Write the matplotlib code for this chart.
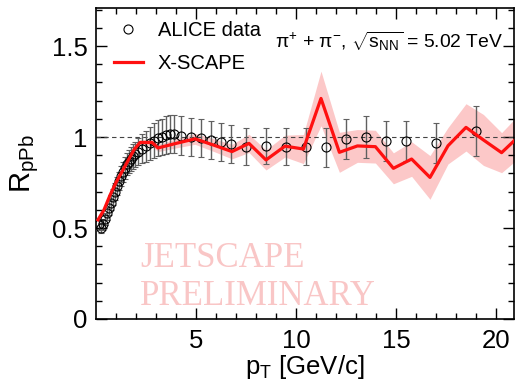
import matplotlib
matplotlib.use("Agg")
import matplotlib.pyplot as plt
from matplotlib.lines import Line2D
import numpy as np

plt.rcParams['font.family'] = ['Liberation Sans', 'DejaVu Sans']
plt.rcParams['mathtext.fontset'] = 'custom'
plt.rcParams['mathtext.rm'] = 'Liberation Sans'
plt.rcParams['mathtext.it'] = 'Liberation Sans'
plt.rcParams['mathtext.default'] = 'regular'

# ALICE data points
alice_pt = [0.15, 0.25, 0.35, 0.45, 0.55, 0.65, 0.75, 0.85, 0.95, 1.05,
            1.15, 1.25, 1.35, 1.45, 1.55, 1.65, 1.75, 1.85, 1.95,
            2.1, 2.3, 2.5, 2.7, 2.9, 3.1, 3.3, 3.5, 3.7, 3.9,
            4.25, 4.75, 5.25, 5.75, 6.25, 6.75, 7.5, 8.5, 9.5, 10.5,
            11.5, 12.5, 13.5, 14.5, 15.5, 17.0, 19.0]
alice_r = [0.52, 0.50, 0.52, 0.55, 0.58, 0.61, 0.64, 0.67, 0.70, 0.73,
           0.76, 0.785, 0.81, 0.83, 0.85, 0.865, 0.88, 0.893, 0.905,
           0.92, 0.935, 0.95, 0.965, 0.98, 0.995, 1.0, 1.01, 1.015, 1.015,
           1.008, 1.0, 0.996, 0.984, 0.971, 0.96, 0.947, 0.952, 0.947, 0.947,
           0.943, 0.989, 1.0, 0.98, 0.978, 0.965, 1.033]
alice_err = [0.03, 0.03, 0.03, 0.035, 0.035, 0.04, 0.04, 0.045, 0.045, 0.05,
             0.05, 0.055, 0.055, 0.06, 0.06, 0.065, 0.065, 0.07, 0.07,
             0.075, 0.08, 0.085, 0.09, 0.095, 0.1, 0.1, 0.105, 0.105, 0.105,
             0.105, 0.105, 0.105, 0.105, 0.105, 0.105, 0.1, 0.1, 0.1, 0.1,
             0.105, 0.11, 0.115, 0.11, 0.11, 0.11, 0.135]

# X-SCAPE calculation
xscape_pt = [0.1, 0.4, 0.7, 1.0, 1.3, 1.6, 1.9, 2.2, 2.8, 3.1, 4.0, 4.95,
             5.9, 6.8, 7.65, 8.5, 9.45, 10.37, 11.25, 12.17, 13.07, 13.97,
             14.87, 15.78, 16.7, 17.6, 18.5, 19.37, 20.28, 21.2]
xscape_r = [0.545, 0.60, 0.68, 0.75, 0.81, 0.87, 0.93, 0.97, 0.97, 0.94,
            0.965, 0.99, 0.955, 0.92, 0.965, 0.874, 0.95, 0.934, 1.212,
            0.916, 0.951, 0.947, 0.828, 0.879, 0.778, 0.952, 1.053, 0.984,
            0.914, 1.01]
xscape_err = [0.015, 0.015, 0.015, 0.015, 0.015, 0.015, 0.015, 0.015, 0.02,
              0.02, 0.025, 0.03, 0.035, 0.04, 0.05, 0.055, 0.06, 0.08, 0.15,
              0.11, 0.09, 0.09, 0.085, 0.095, 0.12, 0.1, 0.13, 0.14, 0.11,
              0.12]

fig = plt.figure(figsize=(5.15, 3.86), dpi=100)
ax = fig.add_axes([96/515, 1-319/386, 418/515, 311/386])

lo = np.array(xscape_r) - np.array(xscape_err)
hi = np.array(xscape_r) + np.array(xscape_err)
ax.fill_between(xscape_pt, lo, hi, color='#fcc8c8', lw=0, zorder=1)
ax.axhline(1, color='#444444', ls=(0, (4, 3)), lw=0.8, zorder=2)
ax.errorbar(alice_pt, alice_r, yerr=alice_err, fmt='o', ms=6.5, mfc='none',
            mec='black', mew=0.8, ecolor='#606060', elinewidth=1,
            capsize=2.5, capthick=1, zorder=3)
ax.plot(xscape_pt, xscape_r, color='#ff1010', lw=2.3, zorder=4)

ax.set_xlim(0, 20.9)
ax.set_ylim(0, 1.709)
ax.set_xticks([5, 10, 15, 20])
ax.set_xticks(np.arange(1, 21), minor=True)
ax.set_yticks([0, 0.5, 1, 1.5])
ax.set_yticklabels(['0', '0.5', '1', '1.5'])
ax.set_yticks(np.arange(0, 1.71, 0.1), minor=True)
ax.tick_params(which='both', direction='in', top=True, right=True,
               labelsize=18.5, width=1)
ax.tick_params(which='major', length=8)
ax.tick_params(which='minor', length=4)
ax.tick_params(axis='x', pad=7)
ax.tick_params(axis='y', pad=6)
for s in ax.spines.values():
    s.set_linewidth(1.2)

ax.set_xlabel(r'$p_{T}$ [GeV/c]', fontsize=18.5, labelpad=0)
ax.set_ylabel(r'$R_{pPb}$', fontsize=21, labelpad=8)

handles = [Line2D([], [], ls='none', marker='o', ms=6.5, mfc='none',
                  mec='black', mew=0.8),
           Line2D([], [], color='#ff1010', lw=2.3)]
ax.legend(handles, ['ALICE data', 'X-SCAPE'], loc='upper left',
          bbox_to_anchor=(0.042, 0.959), frameon=False, fontsize=14.5,
          handlelength=1.45, handletextpad=0.75, labelspacing=0.7,
          borderpad=0, borderaxespad=0)

ax.text(0.428, 0.871, r'$\pi^{+}$ + $\pi^{-}$, $\sqrt{s_{NN}}$ = 5.02 TeV',
        transform=ax.transAxes, fontsize=13.9, va='baseline')

ax.text(0.105, 0.167, 'JETSCAPE', transform=ax.transAxes, fontsize=25,
        family='Liberation Serif', color='#f9c6c6', va='baseline', zorder=0)
ax.text(0.105, 0.045, 'PRELIMINARY', transform=ax.transAxes, fontsize=25,
        family='Liberation Serif', color='#f9c6c6', va='baseline', zorder=0)

fig.savefig('out.png', dpi=100)
